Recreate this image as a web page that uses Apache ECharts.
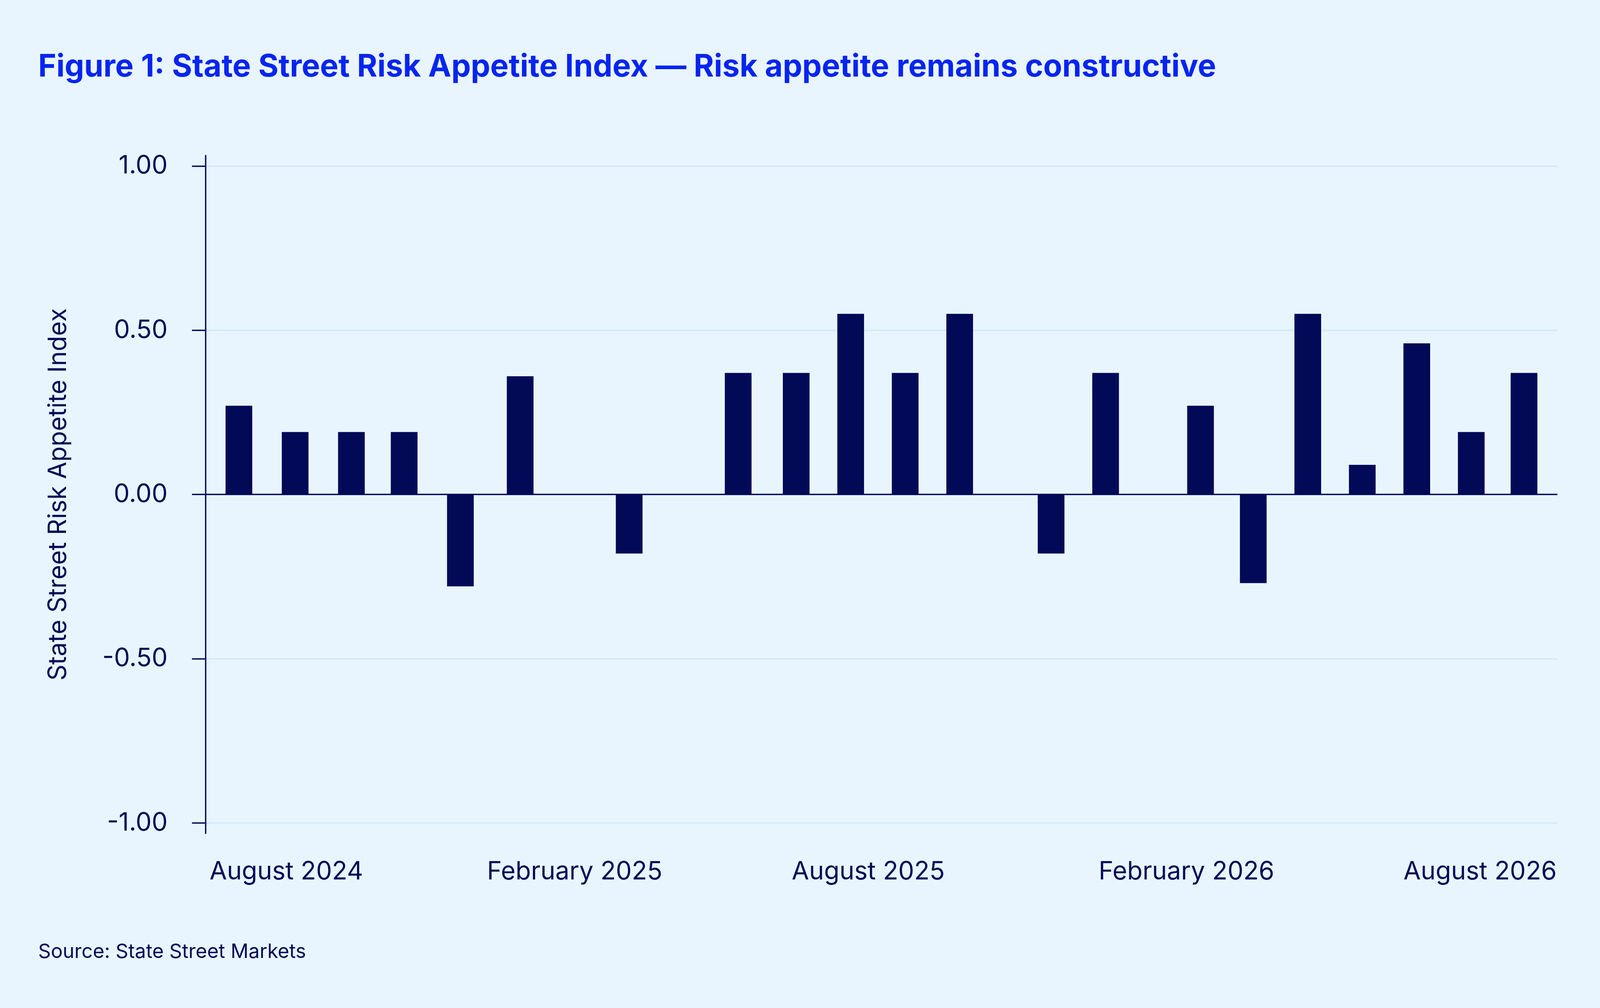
<!DOCTYPE html>
<html>
<head>
<meta charset="utf-8">
<script src="https://cdn.jsdelivr.net/npm/echarts@6/dist/echarts.min.js"></script>
<style>
html,body{margin:0;padding:0;background:#e9f5fe;overflow:hidden;width:100%;height:100%;}
#chart{position:absolute;left:0;top:0;width:100vw;height:100vh;}
</style>
</head>
<body>
<div id="chart"></div>
<script>
// ---- data ----
const barDates = ['2024-07-20','2024-08-21','2024-09-22','2024-10-22','2024-11-23','2024-12-27',
  '2025-02-27','2025-04-30','2025-06-02','2025-07-03','2025-08-03','2025-09-03',
  '2025-10-25','2025-11-25','2026-01-18','2026-02-17','2026-03-20','2026-04-20',
  '2026-05-21','2026-06-21','2026-07-21'];
const riskValues = [0.27, 0.19, 0.19, 0.19, -0.28, 0.36,
  -0.18, 0.37, 0.37, 0.55, 0.37, 0.55,
  -0.18, 0.37, 0.27, -0.27, 0.55, 0.09,
  0.46, 0.19, 0.37];
const xTickDates = ['2024-08-16','2025-01-27','2025-07-13','2026-01-10','2026-06-26'];
const xTickLabels = ['August 2024','February 2025','August 2025','February 2026','August 2026'];
const yTickValues = [-1, -0.5, 0, 0.5, 1];

const NAVY = '#020a57';
const FONT = 'Inter';

// the design is 4734 x 2580; fill whatever viewport the page gets
const el = document.getElementById('chart');
const VW = el.clientWidth || window.innerWidth || 4734;
const VH = el.clientHeight || window.innerHeight || 2580;
const SX = VW / 4734, SY = VH / 2580, SF = Math.min(SX, SY);
const px = v => v * SX;   // horizontal distances
const py = v => v * SY;   // vertical distances
const pf = v => v * SF;   // font sizes / line widths

function ts(s){ const a = s.split('-').map(Number); return Date.UTC(a[0], a[1]-1, a[2]); }
const xTickTs = xTickDates.map(ts);

const TITLE_FS = 91.4, SRC_FS = 58.5, XL_FS = 74.5;

const chart = echarts.init(el, null, {renderer:'canvas'});
chart.setOption({
  backgroundColor: '#e9f5fe',
  animation: false,
  title: [
    {
      text: 'Figure 1: State Street Risk Appetite Index \u2014 Risk appetite remains constructive',
      left: px(108), top: py(172.5) - pf(5 + TITLE_FS / 2), padding: pf(5),
      textStyle: {fontFamily: FONT, fontWeight: 700, fontSize: pf(TITLE_FS), color: '#0525f0'}
    },
    {
      text: 'Source: State Street Markets',
      left: px(108), top: py(2437) - pf(5 + SRC_FS / 2), padding: pf(5),
      textStyle: {fontFamily: FONT, fontWeight: 400, fontSize: pf(SRC_FS), color: NAVY}
    }
  ],
  grid: {left: px(608), right: px(126), top: py(398), bottom: py(447), containLabel: false},
  xAxis: {
    type: 'value',
    min: ts('2024-07-01'),
    max: ts('2026-08-09'),
    axisLine: {show: false},
    axisTick: {show: false},
    splitLine: {show: false},
    axisLabel: {
      customValues: xTickTs,
      formatter: function(v){ const i = xTickTs.indexOf(v); return i >= 0 ? xTickLabels[i] : ''; },
      fontFamily: FONT, fontSize: pf(XL_FS), color: NAVY,
      margin: py(99) - pf(XL_FS / 2),
      hideOverlap: false
    }
  },
  yAxis: {
    type: 'value',
    min: -1.032, max: 1.032,
    name: 'State Street Risk Appetite Index',
    nameLocation: 'middle',
    nameGap: px(398),
    nameTextStyle: {fontFamily: FONT, fontSize: pf(74), color: NAVY},
    axisLine: {show: true, lineStyle: {color: NAVY, width: pf(4)}},
    axisTick: {show: true, length: px(40), customValues: yTickValues, lineStyle: {color: NAVY, width: pf(4)}},
    axisLabel: {
      customValues: yTickValues,
      formatter: function(v){ return v.toFixed(2); },
      fontFamily: FONT, fontSize: pf(75), color: NAVY, margin: px(112)
    },
    splitLine: {show: true, lineStyle: {color: '#d3e7fb', width: pf(4)}}
  },
  series: [{
    type: 'bar',
    data: barDates.map((d, i) => [ts(d), riskValues[i]]),
    barWidth: px(79),
    itemStyle: {color: NAVY},
    markLine: {
      silent: true,
      symbol: 'none',
      label: {show: false},
      lineStyle: {color: NAVY, width: pf(4), type: 'solid'},
      data: [{yAxis: 0}]
    }
  }]
});
</script>
</body>
</html>
